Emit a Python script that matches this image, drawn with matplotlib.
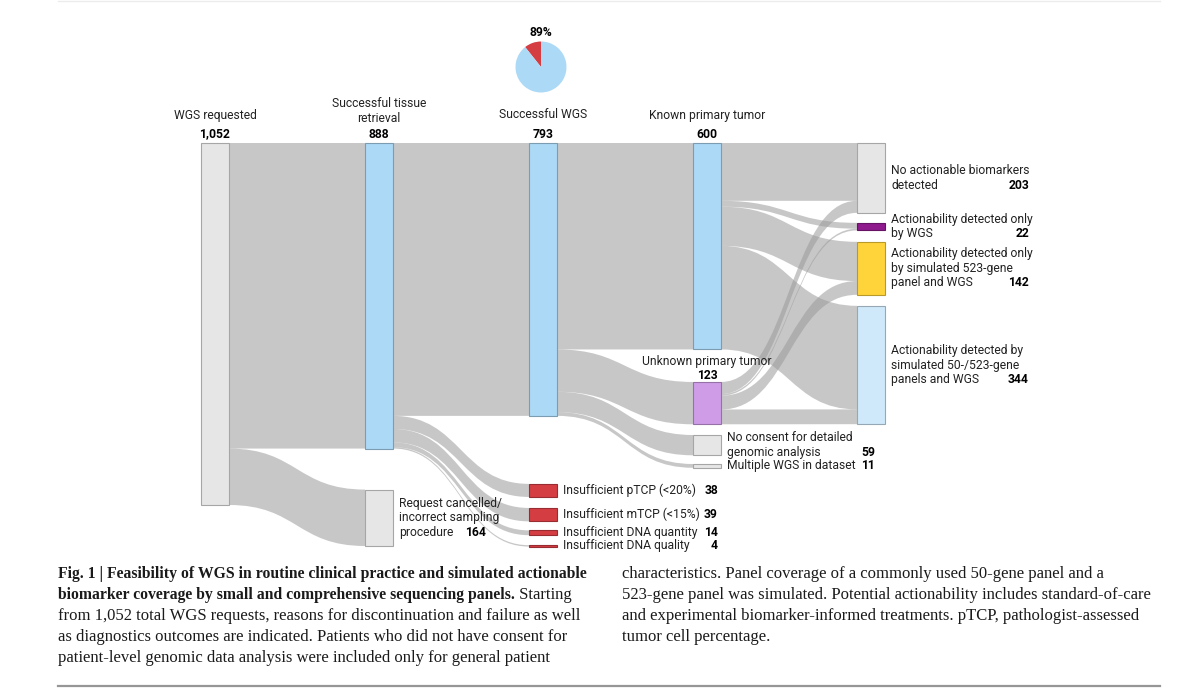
import matplotlib
matplotlib.use("Agg")
import matplotlib.pyplot as plt
from matplotlib.path import Path
from matplotlib.patches import PathPatch, Rectangle
from matplotlib.colors import to_rgb

# ---- data ----
node_ids = ["req", "tissue", "cancel", "wgs", "ptcp", "mtcp", "dnaqty", "dnaql",
            "known", "unknown", "noconsent", "multi",
            "noact", "onlywgs", "p523", "p50"]
node_labels = ["WGS requested", "Successful tissue\nretrieval",
               "Request cancelled/\nincorrect sampling\nprocedure",
               "Successful WGS", "Insufficient pTCP (<20%)", "Insufficient mTCP (<15%)",
               "Insufficient DNA quantity", "Insufficient DNA quality",
               "Known primary tumor", "Unknown primary tumor",
               "No consent for detailed\ngenomic analysis", "Multiple WGS in dataset",
               "No actionable biomarkers\ndetected", "Actionability detected only\nby WGS",
               "Actionability detected only\nby simulated 523-gene\npanel and WGS",
               "Actionability detected by\nsimulated 50-/523-gene\npanels and WGS"]
node_counts = [1052, 888, 164, 793, 38, 39, 14, 4, 600, 123, 59, 11, 203, 22, 142, 344]
node_column = [0, 1, 1, 2, 2, 2, 2, 2, 3, 3, 3, 3, 4, 4, 4, 4]

flow_src = ["req", "req", "tissue", "tissue", "tissue", "tissue", "tissue",
            "wgs", "wgs", "wgs", "wgs",
            "known", "known", "known", "known",
            "unknown", "unknown", "unknown", "unknown"]
flow_dst = ["tissue", "cancel", "wgs", "ptcp", "mtcp", "dnaqty", "dnaql",
            "known", "unknown", "noconsent", "multi",
            "noact", "onlywgs", "p523", "p50",
            "noact", "onlywgs", "p523", "p50"]
flow_val = [888, 164, 793, 38, 39, 14, 4,
            600, 123, 59, 11,
            168, 17, 114, 301,
            35, 5, 40, 43]

caption_left = [
    [("Fig. 1 | Feasibility of WGS in routine clinical practice and simulated actionable", "bold")],
    [("biomarker coverage by small and comprehensive sequencing panels.", "bold"), (" Starting", "normal")],
    [("from 1,052 total WGS requests, reasons for discontinuation and failure as well", "normal")],
    [("as diagnostics outcomes are indicated. Patients who did not have consent for", "normal")],
    [("patient-level genomic data analysis were included only for general patient", "normal")],
]
caption_right = [
    "characteristics. Panel coverage of a commonly used 50-gene panel and a",
    "523-gene panel was simulated. Potential actionability includes standard-of-care",
    "and experimental biomarker-informed treatments. pTCP, pathologist-assessed",
    "tumor cell percentage.",
]

# ---- layout / style ----
GRAY = "#e6e6e6"
BLUE = "#acd9f6"
RED = "#d43d42"
node_colors = {"req": GRAY, "tissue": BLUE, "cancel": GRAY, "wgs": BLUE,
               "ptcp": RED, "mtcp": RED, "dnaqty": RED, "dnaql": RED,
               "known": BLUE, "unknown": "#cf9de8", "noconsent": GRAY, "multi": GRAY,
               "noact": GRAY, "onlywgs": "#8e1a8e", "p523": "#ffd43a", "p50": "#cfe9fa"}
gap_before = {"cancel": 41, "ptcp": 68, "mtcp": 11, "dnaqty": 9, "dnaql": 10,
              "unknown": 32.5, "noconsent": 10.7, "multi": 8.7,
              "onlywgs": 10, "p523": 11.4, "p50": 11}
# top-placed labels: (value offset above node, name offset above value)
label_on_top = {"req": (9, 19), "tissue": (9, 16), "wgs": (9, 19), "known": (9, 19),
                "unknown": (6, 14)}
value_right = {1: 486, 2: 718, 3: 875, 4: 1029}

TOP = 143
SCALE = 362 / 1052.0   # px per patient
X0, DX, W = 201, 164, 28
LINE = 14.5
FONT = "Roboto"
FS = 8.7
TXT = "#222222"

fig = plt.figure(figsize=(12, 7), dpi=100)
ax = fig.add_axes([0, 0, 1, 1])
ax.set_xlim(0, 1200)
ax.set_ylim(700, 0)
ax.axis("off")

# node sizes from flows
size = {}
for n in node_ids:
    inflow = sum(v for s, d, v in zip(flow_src, flow_dst, flow_val) if d == n)
    outflow = sum(v for s, d, v in zip(flow_src, flow_dst, flow_val) if s == n)
    size[n] = max(inflow, outflow)

# node positions
ny, nx = {}, {}
col_y = {}
for n, c in zip(node_ids, node_column):
    y = col_y.get(c, TOP) + gap_before.get(n, 0)
    ny[n] = y
    nx[n] = X0 + DX * c
    col_y[c] = y + size[n] * SCALE

# flows
out_off = {n: 0.0 for n in node_ids}
in_off = {n: 0.0 for n in node_ids}
for s, d, v in zip(flow_src, flow_dst, flow_val):
    h = v * SCALE
    xa, xb = nx[s] + W, nx[d]
    ya = ny[s] + out_off[s]
    yb = ny[d] + in_off[d]
    out_off[s] += h
    in_off[d] += h
    xm = (xa + xb) / 2
    verts = [(xa, ya), (xm, ya), (xm, yb), (xb, yb), (xb, yb + h),
             (xm, yb + h), (xm, ya + h), (xa, ya + h), (xa, ya)]
    codes = [Path.MOVETO, Path.CURVE4, Path.CURVE4, Path.CURVE4, Path.LINETO,
             Path.CURVE4, Path.CURVE4, Path.CURVE4, Path.CLOSEPOLY]
    ax.add_patch(PathPatch(Path(verts, codes), facecolor="#9a9a9a", alpha=0.55,
                           edgecolor="none", zorder=1))

# nodes and labels
for n, lab, cnt, c in zip(node_ids, node_labels, node_counts, node_column):
    fc = node_colors[n]
    ec = tuple(v * 0.72 for v in to_rgb(fc))
    h = size[n] * SCALE
    ax.add_patch(Rectangle((nx[n], ny[n]), W, h, facecolor=fc, edgecolor=ec,
                           lw=0.8, zorder=3))
    val = f"{cnt:,}"
    lines = lab.split("\n")
    k = len(lines)
    if n in label_on_top:
        voff, noff = label_on_top[n]
        cx = nx[n] + W / 2
        vy = ny[n] - voff
        ax.text(cx, vy, val, ha="center", va="center", fontsize=FS,
                fontweight="bold", family=FONT, zorder=5)
        for i, ln in enumerate(lines):
            ly = vy - noff - (k - 1 - i) * LINE
            ax.text(cx, ly, ln, ha="center", va="center", fontsize=FS,
                    family=FONT, color=TXT, zorder=5)
    else:
        cy = ny[n] + h / 2
        for i, ln in enumerate(lines):
            ax.text(nx[n] + W + 6, cy + (i - (k - 1) / 2) * LINE, ln, ha="left",
                    va="center", fontsize=FS, family=FONT, color=TXT, zorder=5)
        ax.text(value_right[c], cy + (k - 1) / 2 * LINE, val, ha="right",
                va="center", fontsize=FS, fontweight="bold", family=FONT, zorder=5)

# pie: share of successful WGS among retrieved tissue
n_ok = node_counts[node_ids.index("wgs")]
n_tis = node_counts[node_ids.index("tissue")]
pcx, pcy, pr = 541, 67, 26
pax = fig.add_axes([(pcx - pr) / 1200, 1 - (pcy + pr) / 700, 2 * pr / 1200, 2 * pr / 700])
pax.pie([n_tis - n_ok, n_ok], colors=[RED, BLUE], startangle=90, counterclock=True)
pax.set_xlim(-1.02, 1.02)
pax.set_ylim(-1.02, 1.02)
pax.set_aspect("equal")
ax.text(pcx, 33, f"{round(100 * n_ok / n_tis)}%", ha="center", va="center",
        fontsize=FS, fontweight="bold", family=FONT)

# caption
renderer = fig.canvas.get_renderer()
CAP_SIZE = {"bold": 11.3, "normal": 12.0}
for i, parts in enumerate(caption_left):
    x = 58
    for txt, wt in parts:
        t = ax.text(x, 578 + 21 * i, txt, ha="left", va="baseline",
                    fontsize=CAP_SIZE[wt], fontweight=wt,
                    family="Liberation Serif", color="#1a1a1a")
        x += t.get_window_extent(renderer).width
for i, txt in enumerate(caption_right):
    ax.text(622, 578 + 21 * i, txt, ha="left", va="baseline",
            fontsize=CAP_SIZE["normal"], family="Liberation Serif", color="#1a1a1a")

# rules
ax.plot([58, 1160], [686, 686], color="#969696", lw=1.6)
ax.plot([58, 1160], [1, 1], color="#ececec", lw=1.0)

fig.savefig("out.png", dpi=100, facecolor="white")
